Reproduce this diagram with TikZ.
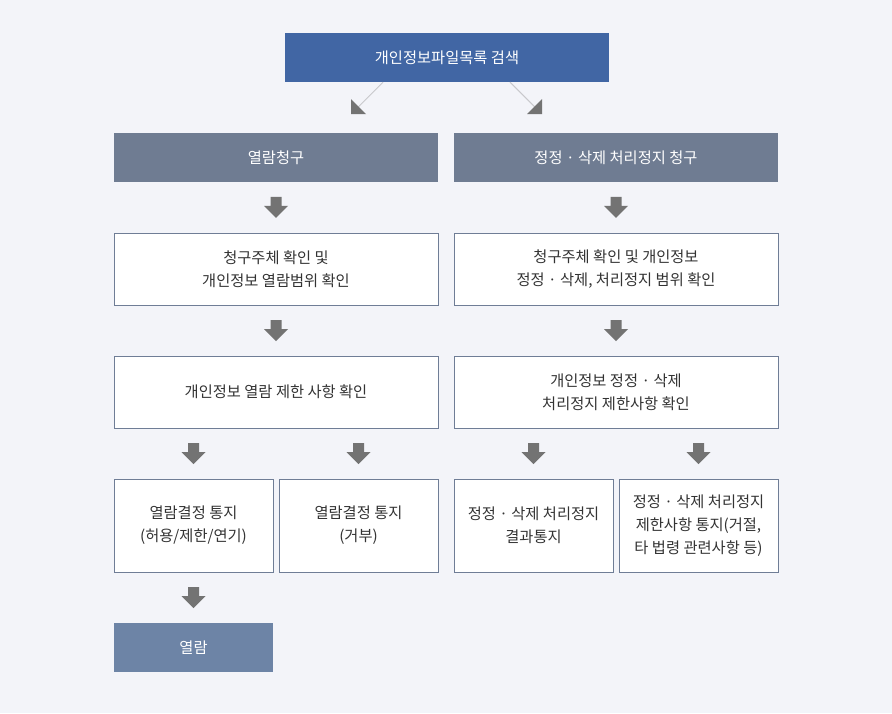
\documentclass[tikz,border=0pt]{standalone}
\usepackage{fontspec}
\setmainfont{Noto Sans CJK KR}
\usetikzlibrary{calc}

\definecolor{bgc}{HTML}{F3F4F9}
\definecolor{topblue}{HTML}{4166A4}
\definecolor{slate}{HTML}{6F7C92}
\definecolor{lastblue}{HTML}{6D84A6}
\definecolor{framec}{HTML}{6F7D96}
\definecolor{txtc}{HTML}{333333}
\definecolor{linec}{HTML}{C8C8CC}

\tikzset{
    x=1pt, y=-1pt,
    every node/.style={font=\fontsize{15.3}{23}\selectfont, align=center, inner sep=0pt},
    headbox/.style={fill=topblue, text=white, minimum width=324, minimum height=49},
    askbox/.style={fill=slate, text=white, minimum width=324, minimum height=49},
    checkbox/.style={fill=white, draw=framec, line width=1pt, text=txtc, minimum width=324, minimum height=72},
    notebox/.style={fill=white, draw=framec, line width=1pt, text=txtc, minimum width=159, minimum height=93},
    lastbox/.style={fill=lastblue, text=white, minimum width=159, minimum height=49},
    blockarrow/.pic={
        \fill[black!55] (-5.5,-10.5) -- (5.5,-10.5) -- (5.5,-1.5) -- (12,-1.5)
            -- (0,10.5) -- (-12,-1.5) -- (-5.5,-1.5) -- cycle;
    }
}

\begin{document}
\begin{tikzpicture}
    \fill[bgc] (0,0) rectangle (892,713);

    % boxes
    \node[headbox] (top) at (447,57.5) {개인정보파일목록 검색};

    \node[askbox] (r1a) at (276,157.5) {열람청구};
    \node[askbox] (r1b) at (616,157.5) {정정 · 삭제 처리정지 청구};

    \node[checkbox] (r2a) at (276,269) {청구주체 확인 및\\개인정보 열람범위 확인};
    \node[checkbox] (r2b) at (616,269) {청구주체 확인 및 개인정보\\정정 · 삭제, 처리정지 범위 확인};

    \node[checkbox] (r3a) at (276,392) {개인정보 열람 제한 사항 확인};
    \node[checkbox] (r3b) at (616,392) {개인정보 정정 · 삭제\\처리정지 제한사항 확인};

    \node[notebox] (r4a) at (193.5,525.5) {열람결정 통지\\(허용/제한/연기)};
    \node[notebox] (r4b) at (358.5,525.5) {열람결정 통지\\(거부)};
    \node[notebox] (r4c) at (533.5,525.5) {정정 · 삭제 처리정지\\결과통지};
    \node[notebox] (r4d) at (698.5,525.5) {정정 · 삭제 처리정지\\제한사항 통지(거절,\\타 법령 관련사항 등)};

    \node[lastbox] (last) at (193.5,647.5) {열람};

    % split from the top box
    \coordinate (la) at ($(top.south)+(-64,0)$);
    \coordinate (lb) at ($(top.south)+(-89,25)$);
    \coordinate (ra) at ($(top.south)+(63,0)$);
    \coordinate (rb) at ($(top.south)+(88,25)$);
    \draw[linec, line width=1pt] (la) -- (lb);
    \draw[linec, line width=1pt] (ra) -- (rb);
    \fill[black!55] ($(top.south)+(-96,17)$) -- ++(0,15) -- ++(15,0) -- cycle;
    \fill[black!55] ($(top.south)+(95,17)$) -- ++(0,15) -- ++(-15,0) -- cycle;

    % down arrows
    \foreach \a/\b in {r1a/r2a, r1b/r2b, r2a/r3a, r2b/r3b, r3a/r4a, r3a/r4b, r3b/r4c, r3b/r4d, r4a/last}
        \pic at ($(\a.south -| \b.north)!0.5!(\b.north)$) {blockarrow};
\end{tikzpicture}
\end{document}
